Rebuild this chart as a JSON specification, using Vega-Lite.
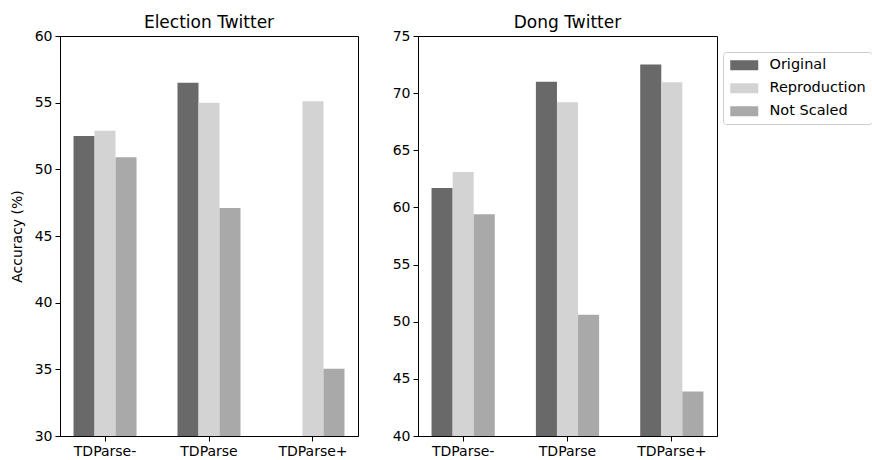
{
  "$schema": "https://vega.github.io/schema/vega-lite/v6.json",
  "padding": {"left": 9, "top": 13, "right": 0, "bottom": 5},
  "spacing": 60,
  "bounds": "flush",
  "datasets": {
    "election": [
      {"model": "TDParse-", "setting": "Original", "accuracy": 52.5},
      {"model": "TDParse-", "setting": "Reproduction", "accuracy": 52.9},
      {"model": "TDParse-", "setting": "Not Scaled", "accuracy": 50.9},
      {"model": "TDParse", "setting": "Original", "accuracy": 56.5},
      {"model": "TDParse", "setting": "Reproduction", "accuracy": 55.0},
      {"model": "TDParse", "setting": "Not Scaled", "accuracy": 47.1},
      {"model": "TDParse+", "setting": "Reproduction", "accuracy": 55.1},
      {"model": "TDParse+", "setting": "Not Scaled", "accuracy": 35.05}
    ],
    "dong": [
      {"model": "TDParse-", "setting": "Original", "accuracy": 61.7},
      {"model": "TDParse-", "setting": "Reproduction", "accuracy": 63.1},
      {"model": "TDParse-", "setting": "Not Scaled", "accuracy": 59.4},
      {"model": "TDParse", "setting": "Original", "accuracy": 71.0},
      {"model": "TDParse", "setting": "Reproduction", "accuracy": 69.2},
      {"model": "TDParse", "setting": "Not Scaled", "accuracy": 50.6},
      {"model": "TDParse+", "setting": "Original", "accuracy": 72.5},
      {"model": "TDParse+", "setting": "Reproduction", "accuracy": 70.95},
      {"model": "TDParse+", "setting": "Not Scaled", "accuracy": 43.9}
    ]
  },
  "hconcat": [
    {
      "title": "Election Twitter",
      "width": 298,
      "height": 400,
      "data": {"name": "election"},
      "mark": {"type": "bar", "clip": true},
      "encoding": {
        "x": {
          "field": "model",
          "type": "nominal",
          "sort": ["TDParse-", "TDParse", "TDParse+"],
          "scale": {"paddingInner": 0.394, "paddingOuter": 0.13},
          "axis": {"title": null}
        },
        "xOffset": {
          "field": "setting",
          "type": "nominal",
          "scale": {"domain": ["Original", "Reproduction", "Not Scaled"], "paddingInner": 0, "paddingOuter": 0}
        },
        "y": {
          "field": "accuracy",
          "type": "quantitative",
          "scale": {"domain": [30, 60], "zero": false, "nice": false},
          "axis": {"title": "Accuracy (%)", "values": [30, 35, 40, 45, 50, 55, 60], "titlePadding": 10}
        },
        "color": {
          "field": "setting",
          "type": "nominal",
          "scale": {"domain": ["Original", "Reproduction", "Not Scaled"], "range": ["#696969", "#d3d3d3", "#a9a9a9"]},
          "legend": null
        }
      }
    },
    {
      "title": "Dong Twitter",
      "width": 299,
      "height": 400,
      "data": {"name": "dong"},
      "mark": {"type": "bar", "clip": true},
      "encoding": {
        "x": {
          "field": "model",
          "type": "nominal",
          "sort": ["TDParse-", "TDParse", "TDParse+"],
          "scale": {"paddingInner": 0.394, "paddingOuter": 0.13},
          "axis": {"title": null}
        },
        "xOffset": {
          "field": "setting",
          "type": "nominal",
          "scale": {"domain": ["Original", "Reproduction", "Not Scaled"], "paddingInner": 0, "paddingOuter": 0}
        },
        "y": {
          "field": "accuracy",
          "type": "quantitative",
          "scale": {"domain": [40, 75], "zero": false, "nice": false},
          "axis": {"title": null, "values": [40, 45, 50, 55, 60, 65, 70, 75]}
        },
        "color": {
          "field": "setting",
          "type": "nominal",
          "scale": {"domain": ["Original", "Reproduction", "Not Scaled"], "range": ["#696969", "#d3d3d3", "#a9a9a9"]},
          "legend": {
            "orient": "none",
            "legendX": 305,
            "legendY": 16,
            "title": null,
            "symbolType": "M-2.8,-1L2.8,-1L2.8,1L-2.8,1Z",
            "symbolSize": 100,
            "symbolOffset": 8,
            "symbolStrokeWidth": 0,
            "symbolOpacity": 1,
            "labelFont": "DejaVu Sans",
            "labelFontSize": 14.5,
            "labelColor": "black",
            "labelOffset": 18,
            "rowPadding": 8,
            "padding": 6,
            "strokeColor": "#cccccc",
            "fillColor": "white",
            "cornerRadius": 3
          }
        }
      }
    }
  ],
  "resolve": {
    "scale": {"x": "independent", "y": "independent", "xOffset": "independent", "color": "independent"},
    "legend": {"color": "independent"}
  },
  "config": {
    "font": "DejaVu Sans",
    "view": {"stroke": "black", "strokeWidth": 1},
    "axis": {
      "domainColor": "black",
      "tickColor": "black",
      "labelColor": "black",
      "titleColor": "black",
      "labelFont": "DejaVu Sans",
      "titleFont": "DejaVu Sans",
      "labelFontSize": 14,
      "titleFontSize": 14,
      "titleFontWeight": "normal",
      "grid": false,
      "tickSize": 5,
      "labelPadding": 3
    },
    "axisX": {"labelAngle": 0},
    "title": {"font": "DejaVu Sans", "fontSize": 17, "fontWeight": "normal", "color": "black", "offset": -3, "anchor": "middle"}
  }
}
